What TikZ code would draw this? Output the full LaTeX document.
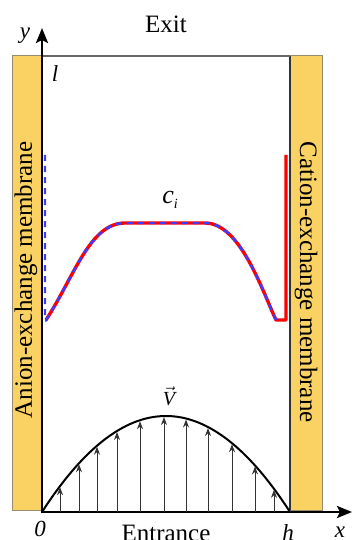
\documentclass[tikz,border=0pt]{standalone}
\usepackage{fontspec}
\setmainfont{Liberation Serif}
\usetikzlibrary{arrows.meta}
\definecolor{membr}{RGB}{250,210,100}
\definecolor{membredge}{RGB}{150,140,110}
\definecolor{cblue}{RGB}{60,60,255}
\definecolor{cred}{RGB}{255,0,0}
\tikzset{
  membrane/.style={fill=membr, draw=membredge, line width=1pt},
  axisline/.style={line width=2.6pt, -{Stealth[length=15pt,width=12pt,inset=3pt]}},
  bigtext/.style={font=\fontsize{25}{30}\selectfont, inner sep=0pt},
  lbl/.style={font=\fontsize{23}{28}\selectfont\itshape, inner sep=0pt},
  vel/.style={line width=1pt, draw=black!80, -{Stealth[length=8pt,width=6pt]}},
  redc/.style={draw=cred, line width=3.4pt, line join=round},
  bluec/.style={draw=cblue, line width=2.4pt, dash pattern=on 6pt off 5pt}
}
\begin{document}
\begin{tikzpicture}[x=1pt,y=-1pt]
\useasboundingbox (0,0) rectangle (352,540);
% membranes
\path[membrane] (12,56) rectangle (42,510);
\path[membrane] (290,56) rectangle (322,510);
\draw[line width=1.8pt, draw=black!80] (290,56) -- (290,510);
% top border
\draw[line width=1.6pt, draw=black!60] (42,56) -- (290,56);
% membrane labels
\node[bigtext, rotate=90] (anion) at (26,280) {Anion-exchange membrane};
\node[bigtext, rotate=-90] (cation) at (306,282) {Cation-exchange membrane};
% axes
\coordinate (o) at (42,512);
\coordinate (ytip) at (42,28);
\coordinate (xtip) at (352,512);
\draw[axisline] (o) -- (ytip);
\draw[axisline] (40.7,512) -- (xtip);
% concentration curve
\draw[redc] (46,320) .. controls (75,275) and (90,223) .. (125,223)
  -- (205,223) .. controls (240,223) and (262,290) .. (276,320)
  -- (286,320) -- (286,155);
\draw[bluec] (45,155) -- (45,318) -- (46,320) .. controls (75,275) and (90,223) .. (125,223)
  -- (205,223) .. controls (240,223) and (262,290) .. (276,320);
% velocity profile
\draw[line width=2pt] plot[domain=42:290, samples=80, smooth] (\x,{512-96*(1-((\x-166)/124)^2)});
\foreach \px in {60,79,97,117,140,164,186,208,232,255,274}{
  \draw[vel] (\px,512) -- (\px,{512-96*(1-((\px-166)/124)^2)+1});
}
% labels
\node[bigtext, anchor=base] (exit) at (166,33) {Exit};
\node[bigtext, anchor=base] (entr) at (166,541) {Entrance};
\node[lbl] (ylab) at (25,36) {y};
\node[lbl] (llab) at (55,74) {l};
\node[lbl] (zero) at (40,529) {0};
\node[lbl] (hlab) at (288,533) {h};
\node[lbl] (xlab) at (340,532) {x};
\node[inner sep=0pt] (ci) at (170,200) {\fontsize{26}{30}\selectfont\itshape c\raisebox{-5pt}{\fontsize{14}{14}\selectfont i}};
\node[inner sep=0pt, anchor=south] (vlab) at (169,406) {\fontsize{20}{22}\selectfont$\vec{\hbox{\itshape V}}$};
\end{tikzpicture}
\end{document}
